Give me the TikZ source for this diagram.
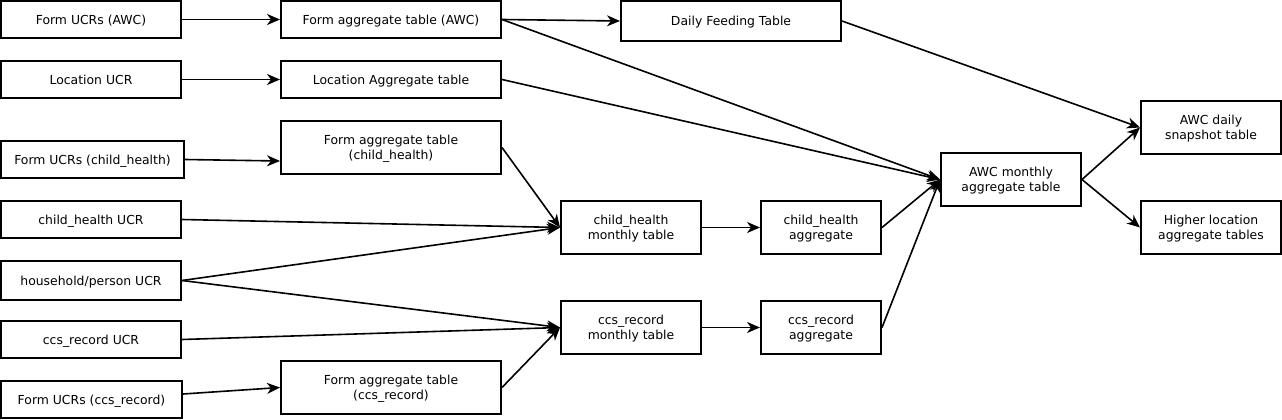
\documentclass[tikz,border=0pt]{standalone}
\usepackage{fontspec}
\setmainfont{DejaVu Sans}
\usetikzlibrary{arrows.meta}
\begin{document}
\begin{tikzpicture}[x=1pt,y=-1pt,
  box/.style={draw, line width=2pt, rectangle, inner sep=0pt, align=center,
    text depth=0pt, font=\fontsize{12.4}{15}\selectfont},
  conn/.style={line width=1.6pt, -{Stealth[length=13pt,width=11pt,inset=4pt]}}]
\path[use as bounding box] (0,0) rectangle (1282,420);
% column 1
\node[box, minimum width=180pt, minimum height=37pt] (fuawc) at (91,19.5) {Form UCRs (AWC)};
\node[box, minimum width=180pt, minimum height=37pt] (locucr) at (91,79.5) {Location UCR};
\node[box, minimum width=183pt, minimum height=37pt] (fuch) at (92.5,159.5) {Form UCRs (child\_health)};
\node[box, minimum width=180pt, minimum height=37pt] (chucr) at (91,219.5) {child\_health UCR};
\node[box, minimum width=180pt, minimum height=39pt] (hh) at (91,280.5) {household/person UCR};
\node[box, minimum width=180pt, minimum height=37pt] (ccsucr) at (91,339.5) {ccs\_record UCR};
\node[box, minimum width=181pt, minimum height=37pt] (fuccs) at (91.5,399.5) {Form UCRs (ccs\_record)};
% column 2
\node[box, minimum width=220pt, minimum height=37pt] (faawc) at (391,19.5) {Form aggregate table (AWC)};
\node[box, minimum width=220pt, minimum height=37pt] (lat) at (391,79.5) {Location Aggregate table};
\node[box, minimum width=220pt, minimum height=53pt] (fach) at (391,147.5) {Form aggregate table\\(child\_health)};
\node[box, minimum width=220pt, minimum height=53pt] (facs) at (391,387.5) {Form aggregate table\\(ccs\_record)};
% column 3
\node[box, minimum width=220pt, minimum height=40pt] (dft) at (731,21) {Daily Feeding Table};
\node[box, minimum width=140pt, minimum height=53pt] (chm) at (631,227.5) {child\_health\\monthly table};
\node[box, minimum width=140pt, minimum height=53pt] (ccsm) at (631,327.5) {ccs\_record\\monthly table};
% column 4
\node[box, minimum width=120pt, minimum height=53pt] (cha) at (821,227.5) {child\_health\\aggregate};
\node[box, minimum width=120pt, minimum height=53pt] (ccsa) at (821,327.5) {ccs\_record\\aggregate};
% column 5/6
\node[box, minimum width=140pt, minimum height=53pt] (awcm) at (1011,179.5) {AWC monthly\\aggregate table};
\node[box, minimum width=140pt, minimum height=53pt] (snap) at (1211,127.5) {AWC daily\\snapshot table};
\node[box, minimum width=140pt, minimum height=53pt] (higher) at (1211,227.5) {Higher location\\aggregate tables};
% connectors
\draw[conn] (fuawc.east) -- (faawc.west);
\draw[conn] (locucr.east) -- (lat.west);
\draw[conn] (fuch.east) -- ([yshift=-13.5pt]fach.west);
\draw[conn] (faawc.east) -- (dft.west);
\draw[conn] (faawc.east) -- (awcm.west);
\draw[conn] (lat.east) -- (awcm.west);
\draw[conn] (dft.east) -- (snap.west);
\draw[conn] (fach.east) -- (chm.west);
\draw[conn] (chucr.east) -- (chm.west);
\draw[conn] (hh.east) -- (chm.west);
\draw[conn] (hh.east) -- (ccsm.west);
\draw[conn] (ccsucr.east) -- (ccsm.west);
\draw[conn] ([yshift=5.5pt]fuccs.east) -- (facs.west);
\draw[conn] (facs.east) -- (ccsm.west);
\draw[conn] (chm.east) -- (cha.west);
\draw[conn] (ccsm.east) -- (ccsa.west);
\draw[conn] (cha.east) -- (awcm.west);
\draw[conn] (ccsa.east) -- (awcm.west);
\draw[conn] (awcm.east) -- (snap.west);
\draw[conn] (awcm.east) -- (higher.west);
\end{tikzpicture}
\end{document}
